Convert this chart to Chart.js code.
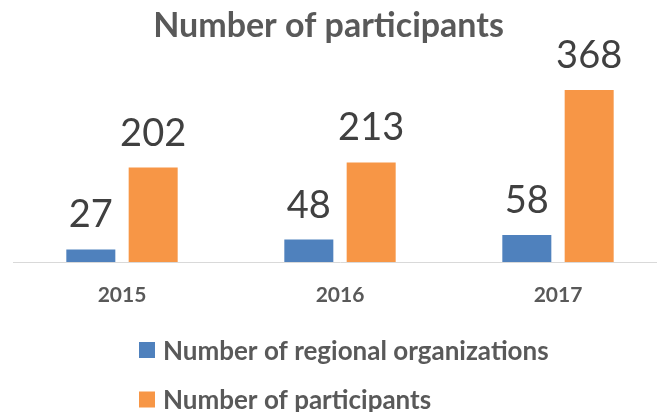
<!DOCTYPE html>
<html>
<head>
<meta charset="utf-8">
<script src="https://cdn.jsdelivr.net/npm/chart.js@4.4.1/dist/chart.umd.min.js"></script>
<style>
  html, body { margin: 0; padding: 0; background: #ffffff; overflow: hidden; }
  #wrap { position: relative; width: 680px; height: 412px; }
</style>
</head>
<body>
<div id="wrap"><canvas id="c"></canvas></div>
<script>
const categories = ['2015', '2016', '2017'];
const regionalOrganizations = [27, 48, 58];
const participants = [202, 213, 368];
const seriesNames = ['Number of regional organizations', 'Number of participants'];
const chartTitle = 'Number of participants';

const FONT = 'Lato, "Open Sans", "DejaVu Sans", sans-serif';

// Title centred on the visible 657px window (canvas is wider so the
// category band matches the reference spacing).
const centeredTitle = {
  id: 'centeredTitle',
  afterDraw(chart) {
    const ctx = chart.ctx;
    ctx.save();
    ctx.font = 'bold 34px ' + FONT;
    ctx.fillStyle = '#595959';
    ctx.textAlign = 'center';
    ctx.textBaseline = 'alphabetic';
    ctx.fillText(chartTitle, 328.5, 37);
    ctx.restore();
  }
};

const valueLabels = {
  id: 'valueLabels',
  afterDatasetsDraw(chart) {
    const ctx = chart.ctx;
    ctx.save();
    ctx.font = '38px ' + FONT;
    ctx.fillStyle = '#404040';
    ctx.textAlign = 'center';
    ctx.textBaseline = 'alphabetic';
    chart.data.datasets.forEach((ds, di) => {
      const meta = chart.getDatasetMeta(di);
      meta.data.forEach((el, i) => {
        ctx.fillText(String(ds.data[i]), el.x, el.y - 22);
      });
    });
    ctx.restore();
  }
};

const stackedLegend = {
  id: 'stackedLegend',
  afterDraw(chart) {
    const ctx = chart.ctx;
    ctx.save();
    ctx.font = 'bold 26px ' + FONT;
    ctx.textAlign = 'left';
    ctx.textBaseline = 'alphabetic';
    chart.data.datasets.forEach((ds, di) => {
      const top = 342 + di * 49.5;
      ctx.fillStyle = ds.backgroundColor;
      ctx.fillRect(139, top, 16, 16);
      ctx.fillStyle = '#595959';
      ctx.fillText(ds.label, 163, top + 17.5);
    });
    ctx.restore();
  }
};

new Chart(document.getElementById('c'), {
  type: 'bar',
  data: {
    labels: categories,
    datasets: [
      { label: seriesNames[0], data: regionalOrganizations, backgroundColor: '#4F81BD',
        categoryPercentage: 0.572, barPercentage: 0.786 },
      { label: seriesNames[1], data: participants, backgroundColor: '#F79646',
        categoryPercentage: 0.572, barPercentage: 0.786 }
    ]
  },
  options: {
    responsive: true,
    maintainAspectRatio: false,
    animation: false,
    layout: { padding: { left: 13, right: 13, top: 75, bottom: 82.8 } },
    plugins: {
      legend: { display: false },
      tooltip: { enabled: false },
      title: { display: false }
    },
    scales: {
      x: {
        grid: { display: false, drawTicks: false },
        border: { display: true, color: '#D9D9D9', width: 1 },
        ticks: {
          color: '#595959',
          padding: 21,
          font: { family: FONT, size: 21, weight: 'bold', lineHeight: 1.2 }
        }
      },
      y: {
        display: false,
        min: 0,
        max: 400,
        grid: { display: false }
      }
    }
  },
  plugins: [centeredTitle, valueLabels, stackedLegend]
});
</script>
</body>
</html>
